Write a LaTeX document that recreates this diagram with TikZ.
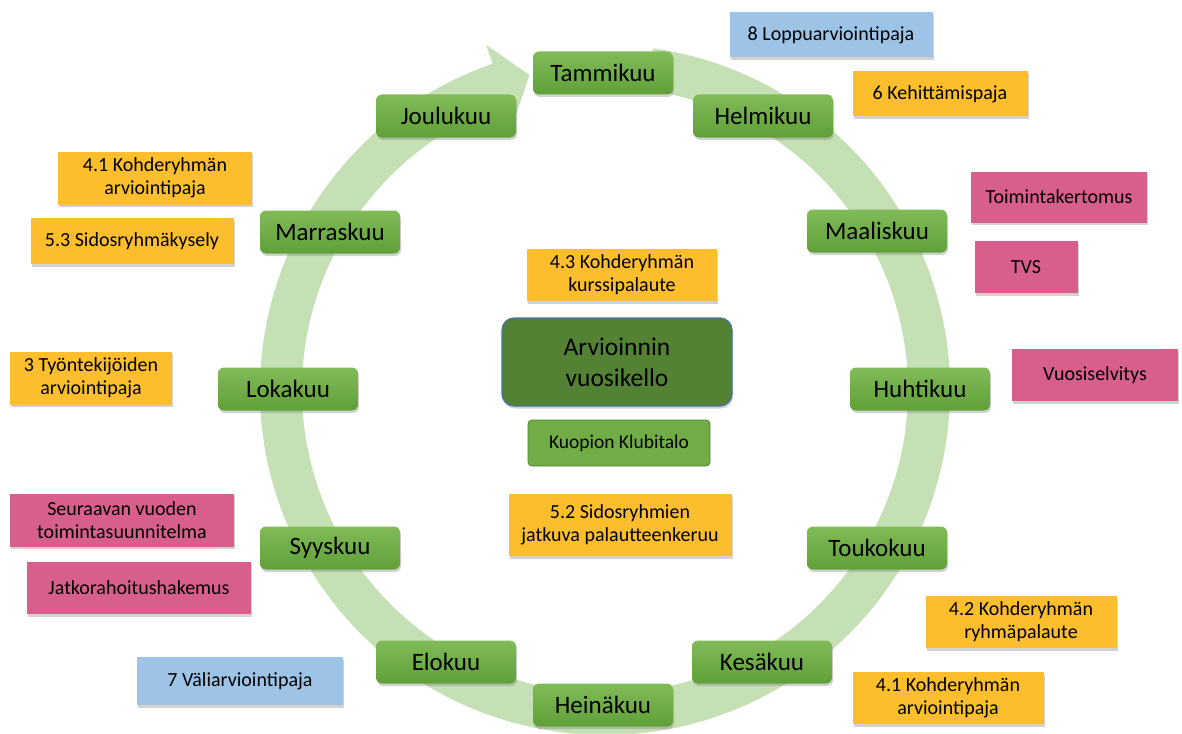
\documentclass[tikz,border=0pt]{standalone}
\usepackage{fontspec}
\setmainfont{Carlito}
\usetikzlibrary{shadows}
\definecolor{ring}{RGB}{197,224,180}
\definecolor{mtop}{RGB}{128,187,88}
\definecolor{mbot}{RGB}{96,160,56}
\definecolor{org}{RGB}{252,190,45}
\definecolor{pnk}{RGB}{216,94,140}
\definecolor{blu}{RGB}{157,195,230}
\definecolor{dgreen}{RGB}{84,130,53}
\definecolor{dborder}{RGB}{70,114,170}
\definecolor{kgreen}{RGB}{112,173,71}
\definecolor{kborder}{RGB}{80,126,50}
\tikzset{
  shad/.style={drop shadow={opacity=0.35,shadow xshift=1pt,shadow yshift=-2.5pt}},
  month/.style={shad,rounded corners=6pt,top color=mtop,bottom color=mbot,minimum width=140pt,minimum height=43pt,inner sep=0pt,font=\fontsize{25}{28}\selectfont,text=black},
  side/.style={shad,minimum height=52pt,inner sep=0pt,align=center,font=\fontsize{20}{23}\selectfont,text=black},
  obox/.style={side,fill=org},
  pbox/.style={side,fill=pnk},
  bbox/.style={side,fill=blu},
}
\begin{document}
\begin{tikzpicture}[x=1pt,y=-1pt]
\useasboundingbox[fill=white] (0,0) rectangle (1182,733);
% ring arrow
\begin{scope}[shift={(605,390)}]
\fill[ring] (-82:345) arc[start angle=-82,end angle=251,radius=345] -- (251:365) -- (256.5:324) -- (251:282) -- (251:303) arc[start angle=251,end angle=-82,radius=303] -- cycle;
\end{scope}
% months
\node[month] (jan) at (603,73) {Tammikuu};
\node[month] (feb) at (763,116) {Helmikuu};
\node[month] (mar) at (877,231) {Maaliskuu};
\node[month] (apr) at (920,389) {Huhtikuu};
\node[month] (may) at (877,548) {Toukokuu};
\node[month] (jun) at (762,662) {Kesäkuu};
\node[month] (jul) at (603,705) {Heinäkuu};
\node[month] (aug) at (446,662) {Elokuu};
\node[month] (sep) at (330,548) {Syyskuu};
\node[month] (oct) at (288,389) {Lokakuu};
\node[month] (nov) at (330,232) {Marraskuu};
\node[month] (dec) at (446,116) {Joulukuu};
% side boxes
\node[bbox,minimum width=203pt,minimum height=45pt] (lop) at (831,35) {8 Loppuarviointipaja};
\node[obox,minimum width=175pt,minimum height=45pt] (keh) at (940,94) {6 Kehittämispaja};
\node[obox,minimum width=194pt,minimum height=53pt] (ka1) at (155,178) {4.1 Kohderyhmän\\arviointipaja};
\node[obox,minimum width=203pt,minimum height=46pt] (sid) at (132,241) {5.3 Sidosryhmäkysely};
\node[pbox,minimum width=176pt,minimum height=51pt] (toi) at (1059,197) {Toimintakertomus};
\node[pbox,minimum width=103pt] (tvs) at (1026,267) {TVS};
\node[obox,minimum width=190pt] (kur) at (622,275) {4.3 Kohderyhmän\\kurssipalaute};
\node[shad,rounded corners=12pt,fill=dgreen,draw=dborder,line width=1.2pt,minimum width=230pt,minimum height=88pt,align=center,font=\fontsize{25.5}{31}\selectfont,text=black] (title) at (617,362) {Arvioinnin\\vuosikello};
\node[rounded corners=4pt,fill=kgreen,draw=kborder,line width=0.8pt,minimum width=182pt,minimum height=46pt,font=\fontsize{19.5}{23}\selectfont,text=black] (klubi) at (619,443) {Kuopion Klubitalo};
\node[pbox,minimum width=166pt] (vuo) at (1095,375) {Vuosiselvitys};
\node[obox,minimum width=162pt,minimum height=53pt] (tyo) at (91,378) {3 Työntekijöiden\\arviointipaja};
\node[pbox,minimum width=224pt,minimum height=53pt] (seu) at (122,520) {Seuraavan vuoden\\toimintasuunnitelma};
\node[pbox,minimum width=224pt] (jat) at (139,588) {Jatkorahoitushakemus};
\node[obox,minimum width=223pt,minimum height=62pt] (pal) at (620,525) {5.2 Sidosryhmien\\jatkuva palautteenkeruu};
\node[obox,minimum width=191pt] (ryh) at (1021,622) {4.2 Kohderyhmän\\ryhmäpalaute};
\node[bbox,minimum width=206pt,minimum height=48pt] (val) at (240,681) {7 Väliarviointipaja};
\node[obox,minimum width=191pt] (ka2) at (948,698) {4.1 Kohderyhmän\\arviointipaja};
\end{tikzpicture}
\end{document}
